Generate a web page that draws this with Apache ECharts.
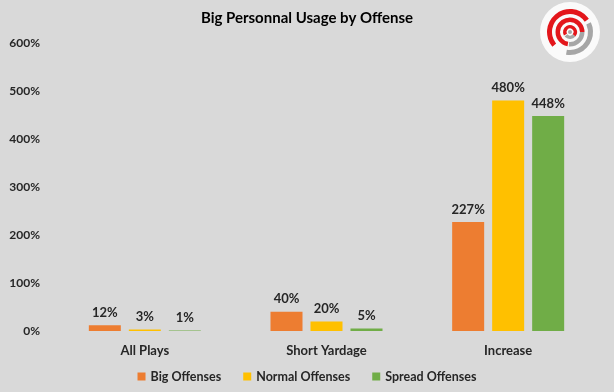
<!DOCTYPE html>
<html><head><meta charset="utf-8">
<script src="https://cdn.jsdelivr.net/npm/echarts@6/dist/echarts.min.js"></script>
<style>html,body{margin:0;padding:0;background:#D9D9D9;}#c{width:614px;height:392px;}</style>
</head><body><div id="c"></div>
<script>
const categories = ['All Plays', 'Short Yardage', 'Increase'];
const bigOffenses = [12, 40, 227];
const normalOffenses = [3, 20, 480];
const spreadOffenses = [1, 5, 448];
const seriesNames = ['Big Offenses', 'Normal Offenses', 'Spread Offenses'];
const colors = ['#ED7D31', '#FFC000', '#70AD47'];

const FONT = 'Lato';
const chart = echarts.init(document.getElementById('c'));
const mk = (name, data, color) => ({
  name, type: 'bar', data, barWidth: 32, barGap: '25%',
  itemStyle: { color },
  label: { show: true, position: 'top', distance: 6, formatter: '{c}%', fontFamily: FONT, fontWeight: 'bold', fontSize: 13, color: '#262626' }
});
const cx = 570, cy = 32, d2r = Math.PI / 180;
const ring = (r0, r, a0, a1, color) => ({ type: 'sector', shape: { cx, cy, r0, r, startAngle: a0 * d2r, endAngle: a1 * d2r, clockwise: true }, style: { fill: color } });
chart.setOption({
  backgroundColor: '#D9D9D9',
  animation: false,
  title: { text: 'Big Personnal Usage by Offense', left: 'center', top: 6, textStyle: { fontFamily: FONT, fontWeight: 'bold', fontSize: 15, color: '#000' } },
  legend: { bottom: 4, left: 'center', itemWidth: 8, itemHeight: 8, itemGap: 22, icon: 'rect', textStyle: { fontFamily: FONT, fontWeight: 'bold', fontSize: 12.5, color: '#262626' }, data: seriesNames },
  grid: { left: 54, right: 15, top: 43, bottom: 61 },
  xAxis: { type: 'category', data: categories, axisLine: { show: false }, axisTick: { show: false }, axisLabel: { fontFamily: FONT, fontWeight: 'bold', fontSize: 13, color: '#262626', margin: 13 } },
  yAxis: { type: 'value', min: 0, max: 600, interval: 100, splitLine: { show: false }, axisLine: { show: false }, axisTick: { show: false }, axisLabel: { formatter: '{value}%', fontFamily: FONT, fontWeight: 'bold', fontSize: 12, color: '#262626', margin: 14 } },
  series: [mk(seriesNames[0], bigOffenses, colors[0]), mk(seriesNames[1], normalOffenses, colors[1]), mk(seriesNames[2], spreadOffenses, colors[2])],
  graphic: [
    { type: 'circle', shape: { cx, cy, r: 30 }, style: { fill: '#FAFAFA' } },
    ring(18, 23, 140, 325, '#E3161B'),
    ring(18, 23, 335, 460, '#A6A6A6'),
    ring(10, 14.5, 100, 360, '#E3161B'),
    ring(10, 14.5, 0, 95, '#A6A6A6'),
    ring(3.5, 7, 150, 400, '#E3161B'),
    ring(3.5, 7, 40, 140, '#A6A6A6'),
    { type: 'circle', shape: { cx, cy, r: 2 }, style: { fill: '#A6A6A6' } }
  ]
});
</script></body></html>
